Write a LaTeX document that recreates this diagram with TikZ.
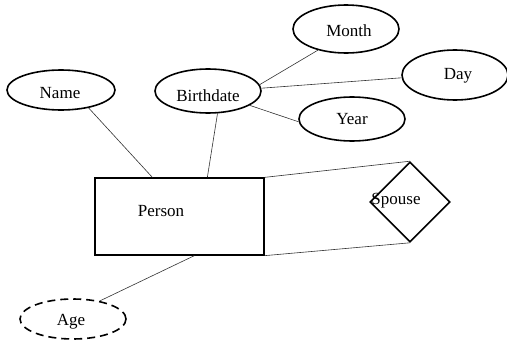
\documentclass[tikz,border=0pt]{standalone}
\usepackage{fontspec}
\setmainfont{Liberation Serif}
\usetikzlibrary{shapes.geometric}

\tikzset{
    attr/.style={ellipse, draw, line width=1.6pt, minimum width=106pt, minimum height=44pt, inner sep=0pt},
    derived/.style={attr, dash pattern=on 8pt off 5pt},
    entity/.style={rectangle, draw, line width=1.3pt, minimum width=169pt, minimum height=77pt, inner sep=0pt},
    rel/.style={diamond, draw, line width=1.6pt, minimum width=80pt, minimum height=80pt, inner sep=0pt, aspect=1},
    conn/.style={line width=0.6pt, black!80},
    txt/.style={inner sep=0pt, font=\fontsize{17}{20}\selectfont}
}

\begin{document}
\begin{tikzpicture}[x=1pt, y=-1pt]
\useasboundingbox (0,0) rectangle (507,351);

% shapes
\node[attr, minimum height=48pt] (month) at (346, 29) {};  % Month
\node[attr, minimum height=50pt] (day) at (455, 75) {};  % Day
\node[attr] (year) at (352, 119) {};  % Year
\node[attr, minimum height=40pt, minimum width=108pt] (name) at (61, 90) {};  % Name
\node[attr] (birthdate) at (208, 91) {};  % Birthdate
\node[entity] (person) at (179.5, 216.5) {};  % Person
\node[rel] (spouse) at (410, 202) {};  % Spouse
\node[derived, minimum height=40pt] (age) at (73, 319) {};  % Age

% labels
\node[txt] at (349, 31) {Month};
\node[txt] at (458, 76) {Day};
\node[txt] at (352, 119) {Year};
\node[txt] at (60, 93) {Name};
\node[txt] at (208, 96) {Birthdate};
\node[txt] at (161, 211) {Person};
\node[txt] at (396, 201) {Spouse};
\node[txt] at (71, 322) {Age};

% connectors
\draw[conn] (name.-33) -- ([xshift=58pt]person.north west);
\draw[conn] (birthdate.-67) -- ([xshift=113pt]person.north west);
\draw[conn] (month.-143) -- (birthdate.7);
\draw[conn] (day.183) -- (birthdate.3);
\draw[conn] (year.183) -- (birthdate.-19);
\draw[conn] (person.north east) -- (spouse.north);
\draw[conn] (person.south east) -- (spouse.south);
\draw[conn] ([xshift=100pt]person.south west) -- (age.34);

\end{tikzpicture}
\end{document}
